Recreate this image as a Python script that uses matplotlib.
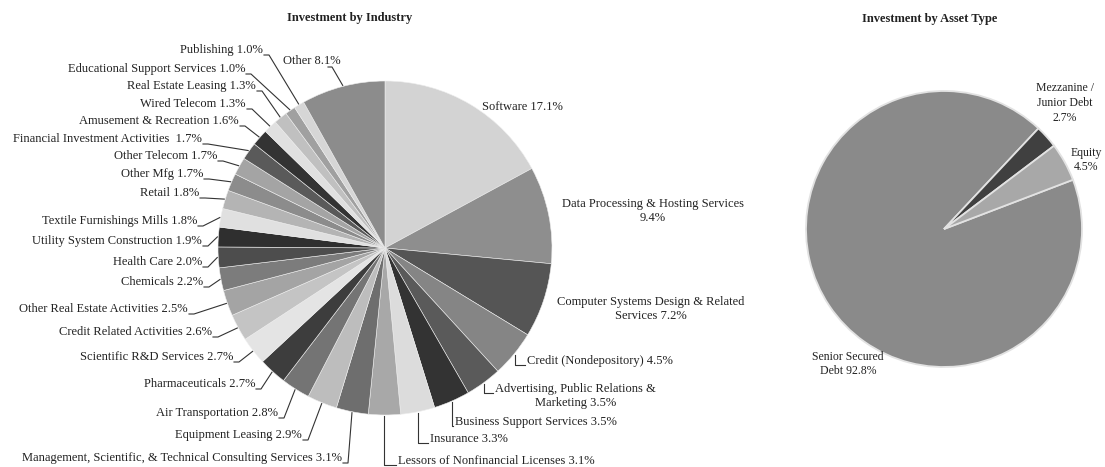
import matplotlib.pyplot as plt
import numpy as np

W, H = 1105, 467

# ---- data: investment by industry ----
ind_names = ["Software", "Data Processing & Hosting Services", "Computer Systems Design & Related Services",
             "Credit (Nondepository)", "Advertising, Public Relations & Marketing", "Business Support Services",
             "Insurance", "Lessors of Nonfinancial Licenses", "Management, Scientific, & Technical Consulting Services",
             "Equipment Leasing", "Air Transportation", "Pharmaceuticals", "Scientific R&D Services",
             "Credit Related Activities", "Other Real Estate Activities", "Chemicals", "Health Care",
             "Utility System Construction", "Textile Furnishings Mills", "Retail", "Other Mfg", "Other Telecom",
             "Financial Investment Activities ", "Amusement & Recreation", "Wired Telecom", "Real Estate Leasing",
             "Educational Support Services", "Publishing", "Other"]
ind_pct = [17.1, 9.4, 7.2, 4.5, 3.5, 3.5, 3.3, 3.1, 3.1, 2.9, 2.8, 2.7, 2.7, 2.6, 2.5, 2.2, 2.0,
           1.9, 1.8, 1.8, 1.7, 1.7, 1.7, 1.6, 1.3, 1.3, 1.0, 1.0, 8.1]
ind_text = ["Software 17.1%", "Data Processing & Hosting Services\n9.4%",
            "Computer Systems Design & Related\nServices 7.2%", "Credit (Nondepository) 4.5%",
            "Advertising, Public Relations &\nMarketing 3.5%", "Business Support Services 3.5%",
            "Insurance 3.3%", "Lessors of Nonfinancial Licenses 3.1%",
            "Management, Scientific, & Technical Consulting Services 3.1%", "Equipment Leasing 2.9%",
            "Air Transportation 2.8%", "Pharmaceuticals 2.7%", "Scientific R&D Services 2.7%",
            "Credit Related Activities 2.6%", "Other Real Estate Activities 2.5%", "Chemicals 2.2%",
            "Health Care 2.0%", "Utility System Construction 1.9%", "Textile Furnishings Mills 1.8%",
            "Retail 1.8%", "Other Mfg 1.7%", "Other Telecom 1.7%", "Financial Investment Activities  1.7%",
            "Amusement & Recreation 1.6%", "Wired Telecom 1.3%", "Real Estate Leasing 1.3%",
            "Educational Support Services 1.0%", "Publishing 1.0%", "Other 8.1%"]

# ---- data: investment by asset type ----
asset_names = ["Senior Secured Debt", "Mezzanine / Junior Debt", "Equity"]
asset_pct = [92.8, 2.7, 4.5]
asset_text = ["Senior Secured\nDebt 92.8%", "Mezzanine /\nJunior Debt\n2.7%", "Equity\n4.5%"]

# styles
ind_colors = ["#d3d3d3", "#8e8e8e", "#555555", "#858585", "#5a5a5a", "#333333", "#dcdcdc", "#a8a8a8",
              "#6e6e6e", "#bdbdbd", "#747474", "#3d3d3d", "#e4e4e4", "#c4c4c4", "#a4a4a4", "#7c7c7c",
              "#4d4d4d", "#2f2f2f", "#e0e0e0", "#b4b4b4", "#8c8c8c", "#a4a4a4", "#5a5a5a", "#333333",
              "#e0e0e0", "#c0c0c0", "#a0a0a0", "#d6d6d6", "#8c8c8c"]
asset_colors = ["#8a8a8a", "#404040", "#a8a8a8"]

# label layout (pixel coords): x, y, ha, va, leader kind
ind_lab = [(522, 107, "center", "center", None), (653, 211, "center", "center", None),
           (651, 309, "center", "center", None), (527, 361, "left", "center", "L"),
           (495, 383, "left", "top", "L"), (455, 422, "left", "center", "L"),
           (430, 439, "left", "center", "L"), (398, 461, "left", "center", "L"),
           (342, 458, "right", "center", "D"), (302, 435, "right", "center", "D"),
           (278, 413, "right", "center", "D"), (255, 384, "right", "center", "D"),
           (233, 357, "right", "center", "D"), (212, 332, "right", "center", "D"),
           (188, 309, "right", "center", "D"), (203, 282, "right", "center", "D"),
           (202, 262, "right", "center", "D"), (202, 241, "right", "center", "D"),
           (197, 221, "right", "center", "D"), (199, 193, "right", "center", "D"),
           (203, 174, "right", "center", "D"), (217, 156, "right", "center", "D"),
           (202, 139, "right", "center", "D"), (239, 121, "right", "center", "D"),
           (246, 104, "right", "center", "D"), (256, 86, "right", "center", "D"),
           (245, 69, "right", "center", "D"), (263, 50, "right", "center", "D"),
           (312, 61, "center", "center", "C")]

plt.rcParams['font.family'] = ['Liberation Serif', 'DejaVu Serif']
txtc = "#222222"

fig = plt.figure(figsize=(W / 100, H / 100), dpi=100)
ax = fig.add_axes([0, 0, 1, 1])

c1, r1 = (385, 248), 167
c2, r2 = (944, 229), 138

# y axis is flipped (pixel coords), so counterclock=True draws clockwise on screen
w1, _ = ax.pie(ind_pct, colors=ind_colors, center=c1, radius=r1, startangle=-90, counterclock=True,
               wedgeprops=dict(edgecolor="#eeeeee", linewidth=0.4))
w2, _ = ax.pie(asset_pct, colors=asset_colors, center=c2, radius=r2, startangle=-20.9, counterclock=True,
               wedgeprops=dict(edgecolor="#e2e2e2", linewidth=1.3))

ax.set_xlim(0, W)
ax.set_ylim(H, 0)
ax.set_aspect("equal")
ax.axis("off")

for w, txt, (x, y, ha, va, kind) in zip(w1, ind_text, ind_lab):
    ax.text(x, y, txt, ha=ha, va=va, multialignment="center", fontsize=9, color=txtc)
    th = np.deg2rad((w.theta1 + w.theta2) / 2)
    wx = c1[0] + (r1 + 1) * np.cos(th)
    wy = c1[1] + (r1 + 1) * np.sin(th)
    if kind == "L":
        ly = y + (4 if va == "center" else 10)
        ax.plot([wx, wx, x - 2], [wy, ly, ly], color="#333333", lw=0.8)
    elif kind == "D":
        ly = y + 5
        ax.plot([wx, x + 6, x + 1], [wy, ly, ly], color="#333333", lw=0.8)
    elif kind == "C":
        ax.plot([wx, x + 20, x + 16], [wy, y + 6, y + 6], color="#333333", lw=0.8)

asset_lab = [(848, 364), (1065, 103), (1086, 160)]
for txt, (x, y) in zip(asset_text, asset_lab):
    ax.text(x, y, txt, ha="center", va="center", fontsize=8.5, color=txtc, linespacing=1.3)

ax.text(350, 18, "Investment by Industry", ha="center", va="center", fontsize=9,
        fontweight="bold", color=txtc)
ax.text(930, 19, "Investment by Asset Type", ha="center", va="center", fontsize=9,
        fontweight="bold", color=txtc)

fig.savefig("out.png", dpi=100)
